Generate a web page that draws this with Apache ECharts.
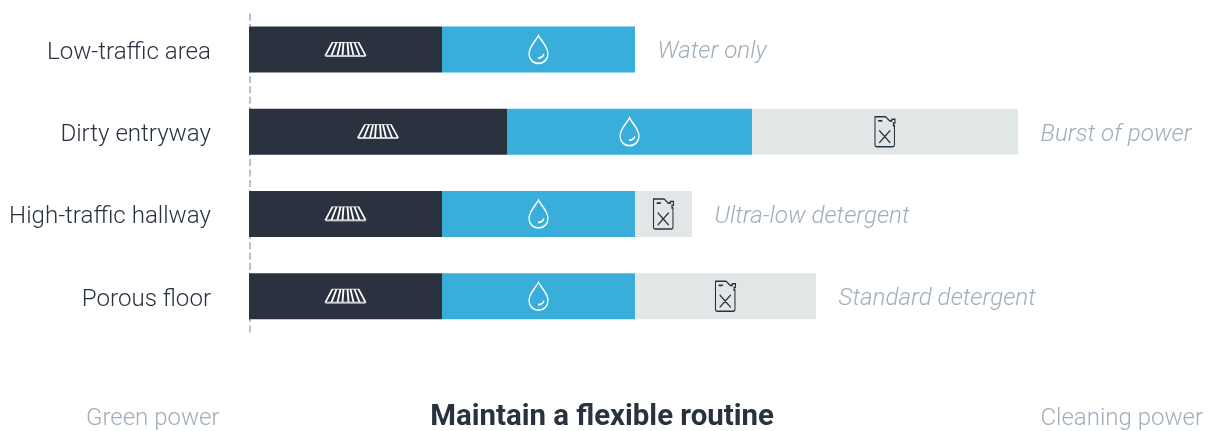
<!DOCTYPE html>
<html>
<head>
<meta charset="utf-8">
<style>html,body{margin:0;padding:0;background:#fff}#c{width:1210px;height:431px}</style>
<script src="https://cdn.jsdelivr.net/npm/echarts@6/dist/echarts.min.js"></script>
</head>
<body>
<div id="c"></div>
<script>
const categories = ['Low-traffic area', 'Dirty entryway', 'High-traffic hallway', 'Porous floor'];
const vacuumValues = [193, 258, 193, 193];
const waterValues = [193, 245, 193, 193];
const detergentValues = [0, 266, 57, 181];
const endLabels = ['Water only', 'Burst of power', 'Ultra-low detergent', 'Standard detergent'];
const titleText = 'Maintain a flexible routine';
const leftText = 'Green power';
const rightText = 'Cleaning power';

const DARK = '#2a3240', BLUE = '#39aedb', LIGHT = '#e1e7e7', GREY = '#a0aebb', FONT = 'Roboto';

const MOP = 'path://M7 1H33L40 13H0ZM0 14H40M11 1L6 13M15 1L12 13M18 1L17 13M22 1L23 13M25 1L28 13M29 1L34 13';
const DROP = 'path://M9.5 0C7 5.5 0 11 0 18.5A9.5 9.5 0 0 0 19 18.5C19 11 12 5.5 9.5 0ZM9 22.5C11.5 22.5 14 21 15 18.5';
const JUG = 'path://M1 1H11L15 5H17V3.5H20V7H18.5V9.5H19.5V28A1.5 1.5 0 0 1 18 29.5H2.5A1.5 1.5 0 0 1 1 28ZM4 5H8M5 14L15.5 26M15.5 14L5 26';

const bar = (name, data, color, extra) => Object.assign({
  name, type: 'bar', stack: 'all', data, barWidth: 46, itemStyle: { color }, silent: true
}, extra || {});

const icons = (symbol, size, stroke, width, points) => ({
  type: 'scatter', symbol, symbolSize: size, silent: true, z: 5,
  data: points, clip: false,
  itemStyle: { color: 'rgba(0,0,0,0)', borderColor: stroke, borderWidth: width, opacity: 1 }
});

const vacuumMid = vacuumValues.map((v, i) => [v / 2, i]);
const waterMid = waterValues.map((v, i) => [vacuumValues[i] + v / 2, i]);
const detergentMid = detergentValues
  .map((v, i) => [vacuumValues[i] + waterValues[i] + v / 2, i, v])
  .filter(p => p[2] > 0).map(p => [p[0], p[1]]);

const chart = echarts.init(document.getElementById('c'), null, { renderer: 'canvas' });
chart.setOption({
  animation: false,
  backgroundColor: '#fff',
  textStyle: { fontFamily: FONT },
  title: [
    { text: titleText, left: 597, top: 398, textAlign: 'center',
      textStyle: { fontFamily: FONT, fontSize: 29.4, fontWeight: 700, color: DARK } },
    { text: leftText, left: 81, top: 402,
      textStyle: { fontFamily: FONT, fontSize: 24, fontWeight: 300, color: GREY } },
    { text: rightText, right: 2, top: 402,
      textStyle: { fontFamily: FONT, fontSize: 24, fontWeight: 300, color: GREY } }
  ],
  grid: [
    { left: 249, top: 8.3, width: 960, height: 329 },
    { left: 250, top: 14, width: 1, height: 318 }
  ],
  xAxis: [
    { type: 'value', min: 0, max: 960, gridIndex: 0, show: false },
    { type: 'value', min: 0, max: 1, gridIndex: 1, show: false }
  ],
  yAxis: [
    { type: 'category', gridIndex: 0, inverse: true, data: categories,
      axisLine: { show: false }, axisTick: { show: false }, splitLine: { show: false },
      axisLabel: { margin: 38, formatter: '{a|{value}}',
        rich: { a: { padding: [7, 0, 0, 0], fontFamily: FONT, fontSize: 24.1, fontWeight: 300, color: DARK } } } },
    { type: 'value', gridIndex: 1, min: 0, max: 1, position: 'left',
      axisLine: { show: true, lineStyle: { color: GREY, width: 1.5, type: [6, 4.4] } },
      axisTick: { show: false }, axisLabel: { show: false }, splitLine: { show: false } }
  ],
  series: [
    bar('Vacuum', vacuumValues, DARK),
    bar('Water', waterValues, BLUE),
    bar('Detergent', detergentValues, LIGHT, {
      label: {
        show: true, position: 'right', distance: 22.5, offset: [0, 3],
        formatter: p => endLabels[p.dataIndex],
        fontFamily: FONT, fontSize: 24.2, fontWeight: 300, fontStyle: 'italic', color: GREY
      }
    }),
    icons(MOP, [40, 14], '#ffffff', 1.1, vacuumMid),
    icons(DROP, [19, 28], '#ffffff', 1.5, waterMid),
    icons(JUG, [20, 30], DARK, 1.3, detergentMid)
  ]
});
</script>
</body>
</html>
